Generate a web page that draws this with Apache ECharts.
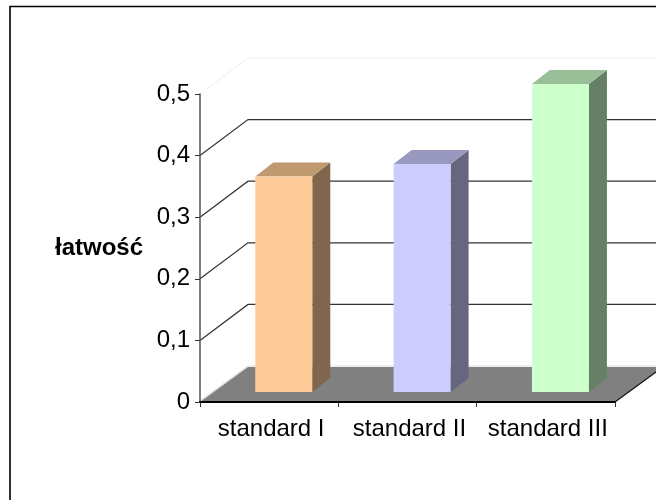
<!DOCTYPE html>
<html><head><meta charset="utf-8">
<style>html,body{margin:0;padding:0;background:#fff}#c{width:656px;height:500px}</style>
<script src="https://cdn.jsdelivr.net/npm/echarts@6/dist/echarts.min.js"></script>
</head><body><div id="c"></div>
<script>
const categories = ['standard I', 'standard II', 'standard III'];
const values = [0.35, 0.37, 0.5];
const yTicks = [0.1, 0.2, 0.3, 0.4];
const yTop = [0.5];
const frontColors = ['#FFCC99', '#CCCCFF', '#CCFFCC'];
const topColors = ['#BF9970', '#9999C0', '#99BF99'];
const sideColors = ['#80664D', '#666680', '#668066'];
const axisName = 'łatwość';

const DX = 48, DY = -36;           // wall depth
const FDY = -35;                   // floor depth
const BW = 57, BDX = 18, BDY = -14; // bar width and depth
const BSHIFT = 14.6, BUP = 10;     // bar offset on the floor
const FONT = '"Liberation Sans", Arial, sans-serif';

function edges(api) {
  const c0 = api.coord([0, 0]);
  const band = api.size([1, 0])[0];
  return {x0: c0[0] - band / 2, y0: c0[1], x1: c0[0] - band / 2 + band * categories.length};
}

const chart = echarts.init(document.getElementById('c'), null, {renderer: 'canvas', width: 656, height: 500});
chart.setOption({
  animation: false,
  backgroundColor: '#fff',
  grid: {left: 200, right: 41, top: 94, bottom: 98, containLabel: false},
  graphic: [{
    type: 'polyline', silent: true, z: 0,
    shape: {points: [[10, 500], [10, 6.5], [656, 6.5]]},
    style: {stroke: '#000', lineWidth: 1.6, fill: null}
  }],
  xAxis: {
    type: 'category', data: categories,
    axisTick: {show: true, alignWithLabel: false, length: 5, lineStyle: {color: '#333', width: 1}},
    axisLine: {show: true, lineStyle: {color: '#000', width: 2}},
    axisLabel: {color: '#000', fontFamily: FONT, fontSize: 24, margin: 15, interval: 0, padding: [0, 0, 0, 4]},
    z: 5
  },
  yAxis: {
    type: 'value', min: 0, max: 0.5, interval: 0.1,
    name: axisName, nameLocation: 'middle', nameRotate: 0, nameGap: 57,
    nameTextStyle: {color: '#000', fontFamily: FONT, fontSize: 24, fontWeight: 'bold', align: 'right', padding: [0, 0, 0, 0]},
    axisTick: {show: true, length: 5, lineStyle: {color: '#333', width: 1}},
    axisLine: {show: true, onZero: false, lineStyle: {color: '#555', width: 1.5}},
    axisLabel: {color: '#000', fontFamily: FONT, fontSize: 24, margin: 10,
      formatter: v => String(+v.toFixed(1)).replace('.', ',')},
    splitLine: {show: false},
    z: 5
  },
  series: [
    { // faint top of the back wall
      type: 'custom', coordinateSystem: 'cartesian2d', silent: true, clip: false, z: 1,
      data: yTop.map(v => [0, v]),
      renderItem(params, api) {
        const e = edges(api), y = api.coord([0, api.value(1)])[1];
        return {type: 'polyline', silent: true,
          shape: {points: [[e.x0, y], [e.x0 + DX, y + DY], [e.x1 + DX, y + DY]]},
          style: {stroke: '#eeeeee', lineWidth: 1, fill: null}};
      }
    },
    { // wall grid lines
      type: 'custom', coordinateSystem: 'cartesian2d', silent: true, clip: false, z: 1,
      data: yTicks.map(v => [0, v]),
      renderItem(params, api) {
        const e = edges(api), y = api.coord([0, api.value(1)])[1];
        return {type: 'polyline', silent: true,
          shape: {points: [[e.x0, y], [e.x0 + DX, y + DY], [e.x1 + DX, y + DY]]},
          style: {stroke: '#333', lineWidth: 1.2, fill: null}};
      }
    },
    { // floor
      type: 'custom', coordinateSystem: 'cartesian2d', silent: true, clip: false, z: 2,
      data: [[0, 0]],
      renderItem(params, api) {
        const e = edges(api);
        return {type: 'group', children: [
          {type: 'polyline', silent: true,
            shape: {points: [[e.x0, e.y0 - 1], [e.x0 + DX, e.y0 + FDY - 1], [e.x1 + DX, e.y0 + FDY - 1]]},
            style: {stroke: '#dddddd', lineWidth: 1.2, fill: null}},
          {type: 'polygon', silent: true,
            shape: {points: [[e.x0, e.y0], [e.x0 + DX, e.y0 + FDY], [e.x1 + DX, e.y0 + FDY], [e.x1, e.y0]]},
            style: {fill: '#808080', stroke: null}},
          {type: 'line', silent: true,
            shape: {x1: e.x1, y1: e.y0, x2: e.x1 + DX, y2: e.y0 + FDY},
            style: {stroke: '#111', lineWidth: 1.2}}
        ]};
      }
    },
    { // bars
      type: 'custom', coordinateSystem: 'cartesian2d', silent: true, clip: false, z: 3,
      data: values.map((v, i) => [i, v]),
      renderItem(params, api) {
        const i = api.value(0);
        const c0 = api.coord([i, 0]), c1 = api.coord([i, api.value(1)]);
        const l = c0[0] + BSHIFT - BW / 2, r = l + BW, b = c0[1] - BUP, t = c1[1] - BUP;
        return {type: 'group', children: [
          {type: 'polygon', silent: true, shape: {points: [[r, b], [r + BDX, b + BDY], [r + BDX, t + BDY], [r, t]]},
            style: {fill: sideColors[i]}},
          {type: 'polygon', silent: true, shape: {points: [[l, t], [l + BDX, t + BDY], [r + BDX, t + BDY], [r, t]]},
            style: {fill: topColors[i]}},
          {type: 'rect', silent: true, shape: {x: l, y: t, width: BW, height: b - t},
            style: {fill: frontColors[i]}}
        ]};
      }
    }
  ]
});
</script></body></html>
